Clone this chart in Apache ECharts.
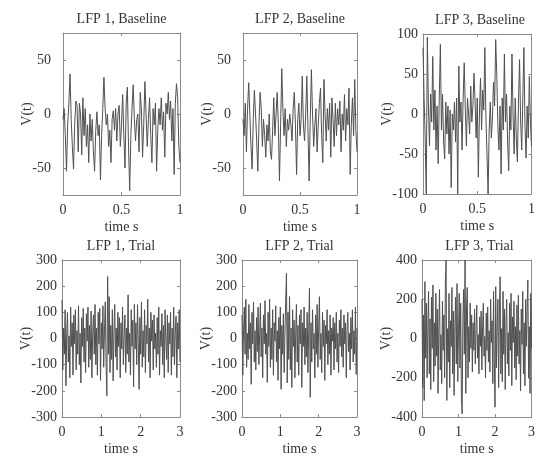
<!DOCTYPE html>
<html>
<head>
<meta charset="utf-8">
<script src="https://cdn.jsdelivr.net/npm/echarts@6/dist/echarts.min.js"></script>
<style>
  html, body { margin: 0; padding: 0; background: #fff; }
  #chart { width: 538px; height: 457px; }
</style>
</head>
<body>
<div id="chart"></div>
<script>
// panel titles
const panelTitles = ['LFP 1, Baseline', 'LFP 2, Baseline', 'LFP 3, Baseline', 'LFP 1, Trial', 'LFP 2, Trial', 'LFP 3, Trial']

// sampling steps (s)
const baseStep = 0.01
const trialStep = 0.02

// baseline recordings, 0..1 s
const lfp1Base = [
  -5, 5, -20, -53, -10, 10, 37, -5, -30, -51,
  -10, 12, 8, -35, 10, 0, -38, 15, -20, 5,
  -30, -10, -45, 0, -25, -5, -35, -53, -15, 2,
  -20, -10, -61, -20, 5, 34, 5, -10, 0, -30,
  -15, -45, -5, 3, -15, 5, -25, 0, 8, -30,
  -10, 18, -20, -50, 10, 25, -30, -71, -20, 5,
  27, -5, -25, -5, 0, -35, 20, 5, -40, -10,
  30, 0, -30, -5, 15, -20, -45, 5, -10, 10,
  -53, -15, 5, -10, 15, -15, 2, -40, 10, 0,
  20, -5, 12, -25, 5, -56, 10, 28, 15, -30,
  -45
]
const lfp2Base = [
  -5, -20, 10, -35, 5, 29, 0, -30, -51, -5,
  22, 0, -25, -53, -10, 20, 5, -30, -5, -20,
  -40, -10, -25, 0, -35, -42, -15, 15, -20, 0,
  20, -10, -62, -10, 42, 5, -20, 5, -30, -5,
  -15, 0, -10, -25, 5, 20, -10, -56, -5, 10,
  -20, -5, 35, -10, -25, 0, 35, -15, -62, -5,
  41, 0, -30, -10, 5, -35, -10, 10, 24, -20,
  -45, 32, 0, -25, 5, -15, 10, -40, 15, -5,
  -30, 10, -20, 5, -10, 12, -35, 0, -15, 18,
  -25, 5, -10, 24, -56, -10, 15, -20, 32, -15,
  -35
]
const lfp3Base = [
  83, 20, -30, -100, 96, 10, -40, 25, -10, 72,
  -20, 30, -45, 10, -62, 20, 87, -20, 25, -35,
  -56, 15, -25, 10, -50, 5, -92, 0, -20, 15,
  -35, 20, -100, 60, -10, 15, -45, 20, 64, 5,
  -40, 20, 0, -25, 35, -10, 10, 51, 15, -30,
  20, -79, 0, 45, -20, 30, 5, 83, -5, -50,
  -100, -20, 15, -30, -5, 40, 10, 93, 50, -15,
  -45, 10, -75, 20, -20, 75, -10, 25, -35, -71,
  10, -20, 75, 0, -50, 20, -30, -60, 15, 68,
  -10, -45, 20, 83, -15, -55, 10, -30, 47, -10,
  -40
]

// trial recordings, 0..3 s
const lfp1Trial = [
  148, -120, 40, -60, 110, -181, 20, 100, -90, 10,
  -150, 120, -30, 60, -140, 90, -20, 110, -120, 30,
  -60, 125, -100, 20, -170, 80, -30, 115, -90, 40,
  -130, 95, -10, 120, -110, 50, -80, 105, -150, 20,
  90, -60, 130, -100, 40, -140, 100, -20, 115, -160,
  60, -40, 125, -110, 30, 140, -90, -219, 237, -60,
  160, -130, 50, -80, 110, -162, 20, 130, -70, 40,
  -120, 100, -30, 80, -150, 60, -40, 120, -100, 10,
  90, -130, 40, -60, 167, -90, 20, -140, 110, -30,
  70, -185, 130, -40, 60, -100, 129, -20, -194, 80,
  -60, 140, -110, 30, -70, 110, -130, 50, -20, 150,
  -90, 40, -150, 100, -10, 70, -120, 90, -40, 20,
  -110, 80, -60, 120, -140, 30, -30, 95, -100, 50,
  -150, 110, 0, -80, 90, -130, 60, -20, 100, -140,
  40, -70, 120, -100, 20, 85, -150, 60, -40, 110,
  -90
]
const lfp2Trial = [
  90, -140, 30, 120, -60, 150, -110, 20, -80, 130,
  -40, 60, -175, 100, -20, 140, -90, 30, -120, 80,
  -50, 120, -100, 10, 135, -70, 40, -150, 90, -20,
  145, -60, 20, -168, 100, -30, 150, -110, 40, -80,
  110, -140, 60, -10, 125, -90, 30, -160, 80, -40,
  120, -194, 50, -60, 95, -130, 20, 140, 249, -170,
  100, -80, 160, -120, 40, -187, 110, -30, 70, -150,
  20, 130, -90, 50, -140, 90, -20, 110, -187, 60,
  -30, 120, -100, 40, -70, 100, -130, 30, 192, -225,
  60, -90, 110, -40, 20, -150, 90, -60, 130, -110,
  40, 160, -80, 20, -130, 100, -30, 70, -160, 50,
  -20, 110, -100, 30, -60, 90, -140, 40, -10, 80,
  -120, 60, -40, 100, -90, 20, -130, 70, -30, 110,
  -70, 40, -110, 90, -20, 60, -150, 30, 100, -50,
  20, -120, 80, -40, 110, -90, 30, -60, 120, -137,
  40
]
const lfp3Trial = [
  200, -250, 120, -316, 290, -100, 180, -200, 60, 240,
  -180, 100, -260, 210, -50, 273, -220, 80, -140, 230,
  -90, 150, -280, 60, 250, -160, 20, -230, 190, -60,
  120, -200, 280, 400, -316, 50, -120, 230, -250, 90,
  -40, 260, -180, 140, -290, 60, 210, -130, 280, -220,
  40, 230, -150, 180, -300, -384, 100, 250, -80, 400,
  -280, 150, 260, -200, 60, -120, 180, -50, 120, -170,
  80, -60, 150, -130, 40, 170, -100, 20, -180, 110,
  -40, 140, -160, 60, 180, -90, 10, -200, 130, -60,
  160, -120, 40, -170, 200, -20, 90, -230, 240, -100,
  -350, 264, -150, 60, 200, -250, 120, 315, -180, 50,
  -220, 240, -80, 150, -260, 70, 200, -130, 30, -190,
  180, -60, 230, -240, 110, -20, 190, -150, 60, -210,
  170, -90, 220, -130, 40, -266, 150, -30, 240, -180,
  80, -240, 200, -40, 140, 298, -200, 60, -280, 230,
  -50
]

// tick values per panel
const baseTimeTicks = [0, 0.5, 1]
const trialTimeTicks = [0, 1, 2, 3]
const ticks50 = [-50, 0, 50]
const ticks100 = [-100, -50, 0, 50, 100]
const ticks300 = [-300, -200, -100, 0, 100, 200, 300]
const ticks400 = [-400, -200, 0, 200, 400]

const panels = [
  { data: lfp1Base, step: baseStep, xTicks: baseTimeTicks, yTicks: ticks50, yMin: -75, yMax: 75, grid: { left: 63, top: 33, width: 117, height: 162 }, labelGap: 12 },
  { data: lfp2Base, step: baseStep, xTicks: baseTimeTicks, yTicks: ticks50, yMin: -75, yMax: 75, grid: { left: 243, top: 33, width: 114, height: 162 }, labelGap: 12 },
  { data: lfp3Base, step: baseStep, xTicks: baseTimeTicks, yTicks: ticks100, yMin: -100, yMax: 100, grid: { left: 423, top: 34, width: 114, height: 160 }, labelGap: 5 },
  { data: lfp1Trial, step: trialStep, xTicks: trialTimeTicks, yTicks: ticks300, yMin: -300, yMax: 300, grid: { left: 62, top: 260, width: 118, height: 160 }, labelGap: 5 },
  { data: lfp2Trial, step: trialStep, xTicks: trialTimeTicks, yTicks: ticks300, yMin: -300, yMax: 300, grid: { left: 242, top: 260, width: 115, height: 160 }, labelGap: 5 },
  { data: lfp3Trial, step: trialStep, xTicks: trialTimeTicks, yTicks: ticks400, yMin: -400, yMax: 400, grid: { left: 422, top: 260, width: 115, height: 160 }, labelGap: 5 }
]

const font = '"Liberation Serif", "Times New Roman", serif'
const textColor = '#333'
const boxColor = '#8a8a8a'
const lineColor = '#505050'

const grids = []
const xAxes = []
const yAxes = []
const series = []
const titleTexts = []

panels.forEach((p, i) => {
  grids.push(Object.assign({ containLabel: false }, p.grid))

  const xMax = p.xTicks[p.xTicks.length - 1]
  const tickStyle = { show: true, inside: true, length: 3, lineStyle: { color: boxColor } }
  const lineStyle = { show: true, lineStyle: { color: boxColor, width: 1 } }

  // bottom (with labels) and top (box + ticks only)
  xAxes.push({
    type: 'value', gridIndex: i, position: 'bottom', min: 0, max: xMax,
    axisLine: Object.assign({ onZero: false }, lineStyle),
    axisTick: Object.assign({ customValues: p.xTicks }, tickStyle),
    axisLabel: { customValues: p.xTicks, margin: 8, color: textColor, fontFamily: font, fontSize: 14 },
    splitLine: { show: false },
    name: 'time s', nameLocation: 'middle', nameGap: 25, nameMoveOverlap: false,
    nameTextStyle: { color: textColor, fontFamily: font, fontSize: 14 }
  })
  xAxes.push({
    type: 'value', gridIndex: i, position: 'top', min: 0, max: xMax,
    axisLine: Object.assign({ onZero: false }, lineStyle),
    axisTick: Object.assign({ customValues: p.xTicks }, tickStyle),
    axisLabel: { show: false },
    splitLine: { show: false }
  })
  // left (with labels) and right (box + ticks only)
  yAxes.push({
    type: 'value', gridIndex: i, position: 'left', min: p.yMin, max: p.yMax,
    axisLine: Object.assign({ onZero: false }, lineStyle),
    axisTick: Object.assign({ customValues: p.yTicks }, tickStyle),
    axisLabel: { customValues: p.yTicks, margin: p.labelGap, color: textColor, fontFamily: font, fontSize: 14 },
    splitLine: { show: false },
    name: 'V(t)', nameLocation: 'middle', nameGap: 29, nameRotate: 90, nameMoveOverlap: false,
    nameTextStyle: { color: textColor, fontFamily: font, fontSize: 14 }
  })
  yAxes.push({
    type: 'value', gridIndex: i, position: 'right', min: p.yMin, max: p.yMax,
    axisLine: Object.assign({ onZero: false }, lineStyle),
    axisTick: Object.assign({ customValues: p.yTicks }, tickStyle),
    axisLabel: { show: false },
    splitLine: { show: false }
  })

  series.push({
    type: 'line',
    xAxisIndex: 2 * i,
    yAxisIndex: 2 * i,
    data: p.data.map((v, k) => [+(k * p.step).toFixed(3), v]),
    symbol: 'none',
    animation: false,
    lineStyle: { color: lineColor, width: 1 }
  })

  // panel title, centred over the plot box
  titleTexts.push({
    type: 'text',
    x: p.grid.left + p.grid.width / 2,
    y: p.grid.top - 14,
    style: {
      text: panelTitles[i],
      align: 'center',
      verticalAlign: 'middle',
      fill: textColor,
      font: '14px ' + font
    }
  })
})

const chart = echarts.init(document.getElementById('chart'))
chart.setOption({
  backgroundColor: '#fff',
  animation: false,
  graphic: titleTexts,
  grid: grids,
  xAxis: xAxes,
  yAxis: yAxes,
  series: series
})
</script>
</body>
</html>
